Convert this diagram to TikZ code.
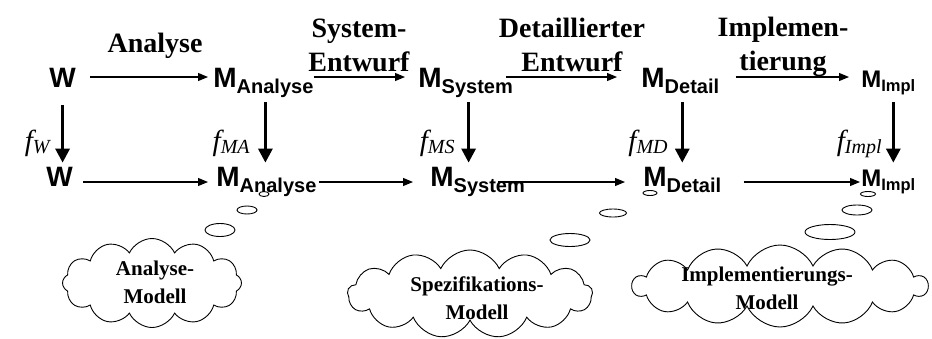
\documentclass[tikz,border=0pt]{standalone}
\usepackage{fontspec}
\setmainfont{Liberation Serif}
\newfontfamily\arialfont{Liberation Sans}
\usetikzlibrary{arrows.meta,shapes.geometric,shapes.symbols}
\tikzset{every picture/.style={line width=0.75pt}}

\newcommand{\msub}[1]{M\raisebox{-6pt}{\fontsize{20}{20}\selectfont #1}}
\newcommand{\msubsmall}[1]{M\raisebox{-4pt}{\fontsize{16.5}{16.5}\selectfont #1}}
\newcommand{\fsub}[1]{\textit{f\raisebox{-3pt}{\fontsize{20}{20}\selectfont #1}}}

\tikzset{
  mtop/.style={anchor=base west, inner sep=0pt, text height=20pt, text depth=0pt,
    font=\arialfont\bfseries\fontsize{28}{28}\selectfont},
  mbot/.style={mtop, text height=8pt},
  msmall/.style={font=\arialfont\bfseries\fontsize{24}{24}\selectfont},
  phase/.style={align=center, inner sep=0pt, font=\bfseries\fontsize{28}{34}\selectfont},
  flabel/.style={anchor=base east, inner sep=0pt, font=\fontsize{29}{29}\selectfont},
  flow/.style={-{Triangle[length=10pt,width=8pt]}, line width=1.1pt},
  down/.style={-{Triangle[length=14pt,width=14pt]}, line width=3pt},
  bubble/.style={ellipse, draw, inner sep=0pt, line width=0.9pt},
  thought/.style={cloud, draw, cloud puffs=12, cloud puff arc=130, cloud ignores aspect,
    inner sep=0pt, line width=0.9pt},
  thoughttext/.style={align=center, inner sep=0pt, font=\bfseries\fontsize{21}{28}\selectfont}
}

\begin{document}
\begin{tikzpicture}[x=1pt,y=-1pt]
\useasboundingbox (0,0) rectangle (932,338);
% obere Zeile
\node[mtop] (w1) at (49,87) {W};
\node[mtop] (ma1) at (213,87) {\msub{Analyse}};
\node[mtop] (ms1) at (418,87) {\msub{System}};
\node[mtop] (md1) at (641,87) {\msub{Detail}};
\node[mtop,msmall] (mi1) at (861,87) {\msubsmall{Impl}};
% untere Zeile
\node[mbot] (w2) at (46,186) {W};
\node[mbot] (ma2) at (216,186) {\msub{Analyse}};
\node[mbot] (ms2) at (430,186) {\msub{System}};
\node[mbot] (md2) at (643,186) {\msub{Detail}};
\node[mbot,msmall] (mi2) at (861,186) {\msubsmall{Impl}};
%
\node[phase,anchor=base] (p1) at (155,52) {Analyse};
\node[phase] (p2) at (359,45) {System-\\Entwurf};
\node[phase] (p3) at (572,45) {Detaillierter\\Entwurf};
\node[phase] (p4) at (783,47) {Implemen-\\tierung};
%
\draw[flow, shorten <=14pt, shorten >=5pt] (w1) -- (ma1);
\draw[flow, shorten >=13pt] (ma1) -- (ms1);
\draw[flow, shorten <=-7pt, shorten >=24pt] (ms1) -- (md1);
\draw[flow, shorten <=16pt, shorten >=12pt] (md1) -- (mi1);
\draw[flow, shorten <=10pt, shorten >=8pt] (w2) -- (ma2);
\draw[flow, shorten <=2pt, shorten >=17pt] (ma2) -- (ms2);
\draw[flow, shorten <=-27pt, shorten >=18pt] (ms2) -- (md2);
\draw[flow, shorten <=22pt, shorten >=1pt] (md2) -- (mi2);
%
\draw[down, shorten <=18pt, shorten >=15pt] (w1.south) -- (w1.south |- w2.north);
\draw[down, shorten <=15pt, shorten >=15pt] ([xshift=2pt]ma1.south) -- ([xshift=2pt]ma1.south |- ma2.north);
\draw[down, shorten <=15pt, shorten >=15pt] ([xshift=3pt]ms1.south) -- ([xshift=3pt]ms1.south |- ms2.north);
\draw[down, shorten <=15pt, shorten >=15pt] ([xshift=2pt]md1.south) -- ([xshift=2pt]md1.south |- md2.north);
\draw[down, shorten <=15pt, shorten >=15pt] ([xshift=5pt]mi1.south) -- ([xshift=5pt]mi1.south |- mi2.north);
%
\node[flabel] (fw) at (50,150) {\fsub{W}};
\node[flabel] (fma) at (250,150) {\fsub{MA}};
\node[flabel] (fms) at (455,150) {\fsub{MS}};
\node[flabel] (fmd) at (668,150) {\fsub{MD}};
\node[flabel] (fmi) at (882,150) {\fsub{Impl}};
% Gedankenblasen
\node[bubble, minimum width=10pt, minimum height=5pt] (a1) at (264,194) {};
\node[bubble, minimum width=20pt, minimum height=8pt] (a2) at (247,210) {};
\node[bubble, minimum width=30pt, minimum height=13pt] (a3) at (220,230) {};
\node[thought, minimum width=179pt, minimum height=89pt] (ca) at (152,283) {};
\node[thoughttext] (ta) at (155,282) {Analyse-\\Modell};
%
\node[bubble, minimum width=14pt, minimum height=5pt] (s1) at (650,193) {};
\node[bubble, minimum width=27pt, minimum height=8pt] (s2) at (613,213) {};
\node[bubble, minimum width=40pt, minimum height=13pt] (s3) at (570,240) {};
\node[thought, cloud puffs=13, minimum width=245pt, minimum height=88pt] (cs) at (470,294) {};
\node[thoughttext] (ts) at (477,298) {Spezifikations-\\Modell};
%
\node[bubble, minimum width=15pt, minimum height=5pt] (i1) at (868,194) {};
\node[bubble, minimum width=30pt, minimum height=10pt] (i2) at (857,210) {};
\node[bubble, minimum width=50pt, minimum height=15pt] (i3) at (830,232) {};
\node[thought, cloud puffs=14, minimum width=295pt, minimum height=82pt] (ci) at (780,286) {};
\node[thoughttext] (ti) at (767,288) {Implementierungs-\\Modell};
\end{tikzpicture}
\end{document}
